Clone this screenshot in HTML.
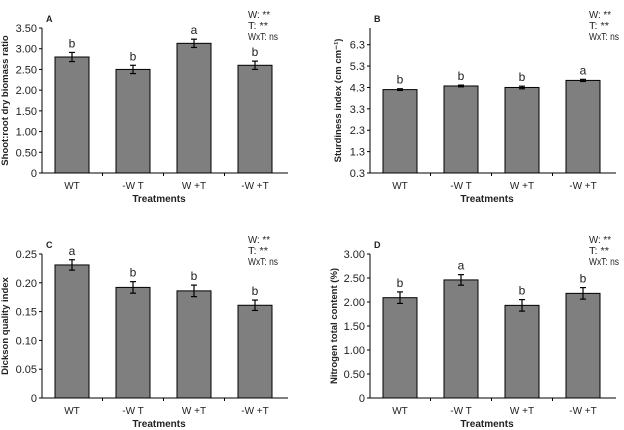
<!DOCTYPE html>
<html><head><meta charset="utf-8"><style>
html,body{margin:0;padding:0;background:#fff;}
svg{display:block;font-family:"Liberation Sans",Arial,sans-serif;}
</style></head><body>
<svg id="c" width="624" height="430" viewBox="0 0 624 430" xmlns="http://www.w3.org/2000/svg"></svg>
<script>
const categories = ["WT", "-W T", "W +T", "-W +T"];
const valuesA = [2.80, 2.50, 3.13, 2.60];
const errorsA = [0.11, 0.10, 0.10, 0.10];
const lettersA = ["b", "b", "a", "b"];
const ticksA = ["0", "0.50", "1.00", "1.50", "2.00", "2.50", "3.00", "3.50"];
const tickValsA = [0, 0.5, 1, 1.5, 2, 2.5, 3, 3.5];
const valuesB = [4.20, 4.37, 4.30, 4.63];
const errorsB = [0.04, 0.04, 0.06, 0.05];
const lettersB = ["b", "b", "b", "a"];
const ticksB = ["0.3", "1.3", "2.3", "3.3", "4.3", "5.3", "6.3"];
const tickValsB = [0.3, 1.3, 2.3, 3.3, 4.3, 5.3, 6.3];
const valuesC = [0.231, 0.192, 0.186, 0.161];
const errorsC = [0.009, 0.010, 0.010, 0.009];
const lettersC = ["a", "b", "b", "b"];
const ticksC = ["0", "0.05", "0.10", "0.15", "0.20", "0.25"];
const tickValsC = [0, 0.05, 0.1, 0.15, 0.2, 0.25];
const valuesD = [2.09, 2.46, 1.93, 2.18];
const errorsD = [0.12, 0.11, 0.12, 0.12];
const lettersD = ["b", "a", "b", "b"];
const ticksD = ["0", "0.50", "1.00", "1.50", "2.00", "2.50", "3.00"];
const tickValsD = [0, 0.5, 1, 1.5, 2, 2.5, 3];

const svg = document.getElementById('c');
const NS = 'http://www.w3.org/2000/svg';
function mk(tag, attrs, parent, text){
  const e = document.createElementNS(NS, tag);
  for (const k in attrs) e.setAttribute(k, attrs[k]);
  if (text !== undefined) e.textContent = text;
  (parent || svg).appendChild(e);
  return e;
}
function panel(p){
  const g = mk('g', {});
  
  
  const y = v => p.y0 - (v - p.vmin) / (p.vmax - p.vmin) * (p.y0 - p.yMaxPix);
  const xc = i => p.x0 + p.off + i * 61;
  const ya = mk('line', {x1:p.x0, y1:p.yTop, x2:p.x0, y2:p.y0, stroke:'#000', 'stroke-width':1}, g);
  
  
  const xa = mk('line', {x1:p.x0-3, y1:p.y0, x2:p.x0+246, y2:p.y0, stroke:'#000', 'stroke-width':1}, g);
  
  
  p.tickVals.forEach((tv, i) => {
    const yy = y(tv);
    mk('line', {x1:p.x0-3, y1:yy, x2:p.x0, y2:yy, stroke:'#000'}, g);
    const t = mk('text', {x:p.x0-5, y:yy+4, 'text-anchor':'end', 'font-size':11, fill:'#222'}, g, p.ticks[i]);
    
    
  });
  for (let i = 1; i < 4; i++) mk('line', {x1:xc(i)-30.5, y1:p.y0, x2:xc(i)-30.5, y2:p.y0+3, stroke:'#000'}, g);
  p.values.forEach((v, i) => {
    const w = 34, top = y(v);
    const r = mk('rect', {x:xc(i)-w/2, y:top, width:w, height:p.y0-top, fill:'#7f7f7f', stroke:'#000', 'stroke-width':1}, g);
    
    
    const e1 = y(v + p.errors[i]), e2 = y(v - p.errors[i]);
    mk('line', {x1:xc(i), y1:e1, x2:xc(i), y2:e2, stroke:'#000', 'stroke-width':1.2}, g);
    mk('line', {x1:xc(i)-3, y1:e1, x2:xc(i)+3, y2:e1, stroke:'#000', 'stroke-width':1.2}, g);
    mk('line', {x1:xc(i)-3, y1:e2, x2:xc(i)+3, y2:e2, stroke:'#000', 'stroke-width':1.2}, g);
    const l = mk('text', {x:xc(i), y:e1-5, 'text-anchor':'middle', 'font-size':12, fill:'#222'}, g, p.letters[i]);
    
    
    const c = mk('text', {x:xc(i), y:p.y0+16, 'text-anchor':'middle', 'font-size':10, fill:'#222'}, g, categories[i]);
    
    
  });
  const xt = mk('text', {x:p.x0+117, y:p.y0+29, 'text-anchor':'middle', 'font-size':10, 'font-weight':'bold', fill:'#222'}, g, 'Treatments');
  
  
  const yt = mk('text', {x:0, y:0, 'text-anchor':'middle', 'font-size':9.5, 'font-weight':'bold', fill:'#222', transform:'translate(' + p.ytX + ',' + ((p.yTop+p.y0)/2) + ') rotate(-90)'}, g, p.ytitle);
  
  
  const pl = mk('text', {x:p.x0+4, y:p.yTop-6, 'font-size':9, 'font-weight':'bold', fill:'#222'}, g, p.id);
  
  
  const annLens = [22, 20, 30];
  ['W: **', 'T: **', 'WxT: ns'].forEach((s, k) => {
    const a = mk('text', {x:p.annX, y:p.annY + k*11, 'font-size':10.5, fill:'#222', textLength:annLens[k], lengthAdjust:'spacingAndGlyphs'}, g, s);
    
    
  });
}
panel({id:'A', x0:42, off:30, y0:173, yTop:28, yMaxPix:28, vmin:0, vmax:3.5, values:valuesA, errors:errorsA, letters:lettersA, ticks:ticksA, tickVals:tickValsA, ytitle:'Shoot:root dry biomass ratio', ytX:8, annX:248, annY:18});
panel({id:'B', x0:370, off:30, y0:173, yTop:28, yMaxPix:44.7, vmin:0.3, vmax:6.3, values:valuesB, errors:errorsB, letters:lettersB, ticks:ticksB, tickVals:tickValsB, ytitle:'Sturdiness index (cm cm\u207B\u00B9)', ytX:341, annX:589, annY:18});
panel({id:'C', x0:42, off:30, y0:398, yTop:254, yMaxPix:254, vmin:0, vmax:0.25, values:valuesC, errors:errorsC, letters:lettersC, ticks:ticksC, tickVals:tickValsC, ytitle:'Dickson quality index', ytX:8, annX:248, annY:243});
panel({id:'D', x0:370, off:30, y0:398, yTop:254, yMaxPix:254, vmin:0, vmax:3.0, values:valuesD, errors:errorsD, letters:lettersD, ticks:ticksD, tickVals:tickValsD, ytitle:'Nitrogen total content (%)', ytX:337, annX:589, annY:243});
</script>
</body></html>
